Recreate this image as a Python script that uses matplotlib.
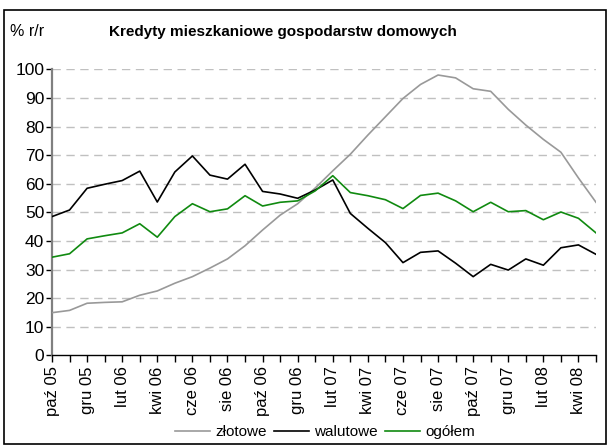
import matplotlib
matplotlib.use("Agg")
import matplotlib.pyplot as plt
from matplotlib.patches import Rectangle

plt.rcParams["font.family"] = ["Liberation Sans", "DejaVu Sans"]

months = ["paź 05", "lis 05", "gru 05", "sty 06", "lut 06", "mar 06", "kwi 06", "maj 06",
          "cze 06", "lip 06", "sie 06", "wrz 06", "paź 06", "lis 06", "gru 06", "sty 07",
          "lut 07", "mar 07", "kwi 07", "maj 07", "cze 07", "lip 07", "sie 07", "wrz 07",
          "paź 07", "lis 07", "gru 07", "sty 08", "lut 08", "mar 08", "kwi 08", "maj 08"]

zlotowe = [14.9, 15.7, 18.2, 18.5, 18.7, 21.0, 22.5, 25.2, 27.5, 30.5, 33.7, 38.3,
           43.8, 49.0, 53.0, 58.5, 64.5, 70.3, 77.0, 83.4, 89.8, 94.7, 98.0, 97.0,
           93.2, 92.3, 86.0, 80.5, 75.5, 71.0, 62.0, 53.5]

walutowe = [48.5, 50.8, 58.4, 59.8, 61.1, 64.4, 53.6, 64.1, 69.7, 63.0, 61.6, 66.8,
            57.3, 56.4, 54.9, 57.8, 61.3, 49.6, 44.4, 39.4, 32.4, 36.0, 36.5, 32.2,
            27.5, 31.8, 29.8, 33.7, 31.5, 37.6, 38.6, 35.3]

ogolem = [34.3, 35.5, 40.7, 41.8, 42.8, 46.0, 41.3, 48.5, 53.0, 50.2, 51.2, 55.8,
          52.2, 53.5, 54.0, 57.5, 62.8, 56.9, 55.8, 54.4, 51.3, 55.9, 56.7, 54.0,
          50.2, 53.5, 50.2, 50.6, 47.4, 50.1, 47.9, 42.8]

x = list(range(len(months)))

fig = plt.figure(figsize=(6.1, 4.48), dpi=100)
ax = fig.add_axes([52 / 610, 1 - 355.3 / 448, 544 / 610, 286 / 448])

# grid (dashed, light grey)
for v in range(10, 101, 10):
    ax.axhline(v, color="#c0c0c0", lw=1.0, ls=(0, (6, 4)), zorder=0)

ax.plot(x, zlotowe, color="#999999", lw=1.2, label="złotowe", zorder=3)
ax.plot(x, walutowe, color="#000000", lw=1.2, label="walutowe", zorder=4)
ax.plot(x, ogolem, color="#108a10", lw=1.2, label="ogółem", zorder=5)

ax.set_xlim(0, len(months) - 1)
ax.set_ylim(0, 100)
ax.set_yticks(range(0, 101, 10))
ax.set_xticks(x)
ax.set_xticklabels([m if i % 2 == 0 else "" for i, m in enumerate(months)], rotation=90)

for s in ["top", "right"]:
    ax.spines[s].set_visible(False)
ax.spines["left"].set_color("#808080")
ax.spines["left"].set_linewidth(1.6)
ax.spines["bottom"].set_color("#000000")
ax.spines["bottom"].set_linewidth(1.0)

ax.tick_params(axis="y", direction="out", length=4, width=1.0, color="#000000",
               labelsize=12.5, pad=1.5)
ax.tick_params(axis="x", direction="out", length=5, width=1.0, color="#000000",
               labelsize=12, pad=3)

fig.text(283 / 610, 1 - 32 / 448, "Kredyty mieszkaniowe gospodarstw domowych",
         ha="center", va="center", fontsize=11, fontweight="bold")
fig.text(10 / 610, 1 - 32 / 448, "% r/r", ha="left", va="center", fontsize=11.5)

fig.legend(loc="center", bbox_to_anchor=(325 / 610, 1 - 432 / 448), ncol=3,
           frameon=False, fontsize=11, handlelength=2.3, handletextpad=0.3,
           columnspacing=0.5)

fig.patches.append(Rectangle((4 / 610, 4 / 448), 602 / 610, 434 / 448,
                             transform=fig.transFigure, fill=False,
                             edgecolor="black", lw=1.2))

fig.savefig("out.png", dpi=100)
